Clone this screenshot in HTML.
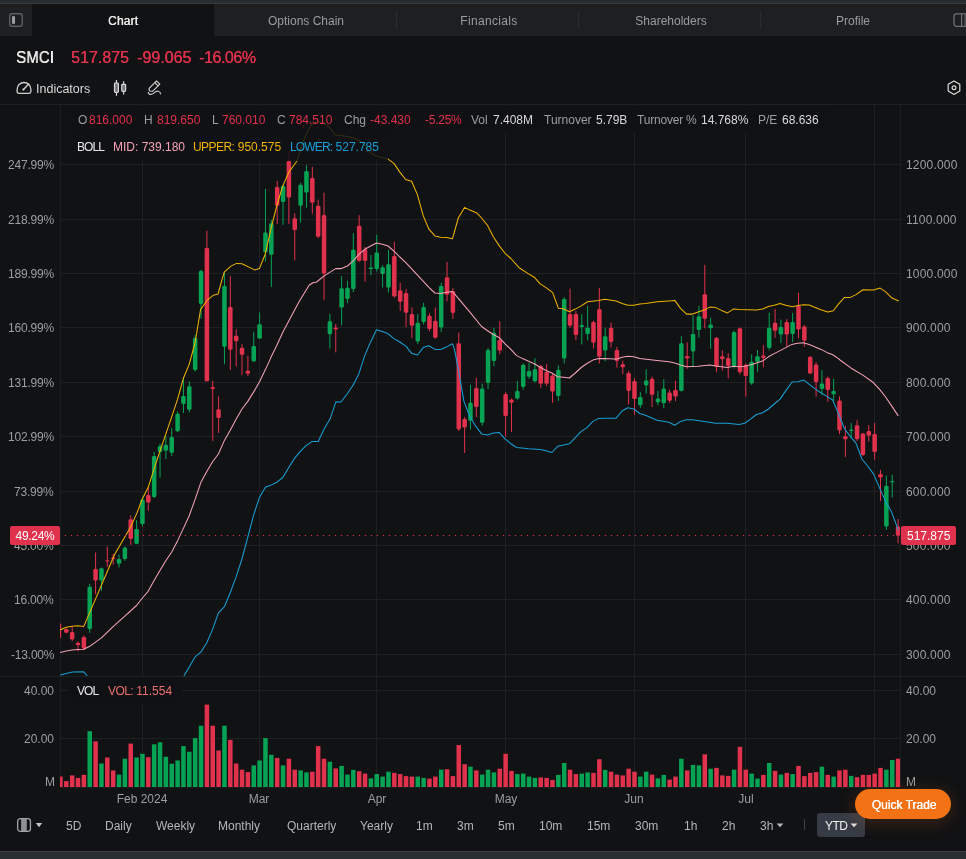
<!DOCTYPE html>
<html><head><meta charset="utf-8"><title>SMCI</title>
<style>
html,body{margin:0;padding:0;background:#111214;}
html{width:966px;height:859px;overflow:hidden;}
body{width:966px;height:859px;position:relative;overflow:hidden;font-family:"Liberation Sans",sans-serif;}
.t{position:absolute;white-space:nowrap;will-change:transform;}
.a{position:absolute;}
</style></head><body>

<div class="a" style="left:0;top:0;width:966px;height:3px;background:#272d30"></div>
<div class="a" style="left:0;top:3px;width:966px;height:1px;background:#35383f"></div>
<div class="a" style="left:0;top:4px;width:966px;height:32px;background:#1d1f21"></div>
<div class="a" style="left:32px;top:4px;width:182px;height:32px;background:#111214"></div>
<div class="a" style="left:396px;top:11px;width:1px;height:18px;background:#2a2c30"></div>
<div class="a" style="left:578px;top:11px;width:1px;height:18px;background:#2a2c30"></div>
<div class="a" style="left:760px;top:11px;width:1px;height:18px;background:#2a2c30"></div>
<div class="t" style="left:63px;width:120px;text-align:center;top:11px;line-height:20px;height:20px;font-size:12px;color:#e8e8e8;text-shadow:0.4px 0 0 #e8e8e8;letter-spacing:0.15px;">Chart</div>
<div class="t" style="left:245.5px;width:120px;text-align:center;top:11px;line-height:20px;height:20px;font-size:12px;color:#9a9c9f;">Options Chain</div>
<div class="t" style="left:428.5px;width:120px;text-align:center;top:11px;line-height:20px;height:20px;font-size:12px;color:#9a9c9f;"><span style="letter-spacing:0.33px">Financials</span></div>
<div class="t" style="left:610.5px;width:120px;text-align:center;top:11px;line-height:20px;height:20px;font-size:12px;color:#9a9c9f;">Shareholders</div>
<div class="t" style="left:792.5px;width:120px;text-align:center;top:11px;line-height:20px;height:20px;font-size:12px;color:#9a9c9f;">Profile</div>
<svg class="a" style="left:8px;top:12px" width="16" height="16" viewBox="0 0 16 16"><rect x="1.7" y="1.7" width="12.6" height="12.6" rx="2.2" fill="none" stroke="#5b5e63" stroke-width="1.4"/><rect x="4" y="4.2" width="3" height="7.6" fill="#9a9c9f"/></svg>
<svg class="a" style="left:953px;top:12px" width="13" height="16" viewBox="0 0 13 16"><rect x="1" y="1.9" width="13.4" height="12.4" rx="2.2" fill="none" stroke="#6d7075" stroke-width="1.3"/><line x1="8.6" y1="2" x2="8.6" y2="14" stroke="#6d7075" stroke-width="1.3"/><rect x="11.2" y="2" width="2" height="12" fill="#4a4c50"/></svg>
<div class="t" style="left:16px;top:48px;line-height:20px;height:20px;font-size:16px;color:#f0f0f0;transform:scaleX(0.945);transform-origin:left center;text-shadow:0.35px 0 0 #f0f0f0;">SMCI</div>
<div class="t" style="left:71px;top:48px;line-height:20px;height:20px;font-size:16px;color:#e0314d;text-shadow:0.35px 0 0 #e0314d;">517.875</div>
<div class="t" style="left:137px;top:48px;line-height:20px;height:20px;font-size:16px;color:#e0314d;text-shadow:0.35px 0 0 #e0314d;">-99.065</div>
<div class="t" style="left:199px;top:48px;line-height:20px;height:20px;font-size:16px;color:#e0314d;letter-spacing:-0.45px;text-shadow:0.35px 0 0 #e0314d;">-16.06%</div>
<svg class="a" style="left:16px;top:80px" width="18" height="16" viewBox="0 0 18 16"><path d="M1.1,11.5 V9.4 A6.9,6.9 0 0 1 14.9,9.4 V11.5 A1.8,1.8 0 0 1 13.1,13.3 H2.9 A1.8,1.8 0 0 1 1.1,11.5 Z" fill="none" stroke="#cfcfcf" stroke-width="1.3"/><path d="M7.3,9.7 L12.6,4" stroke="#cfcfcf" stroke-width="1.4" stroke-linecap="round"/><circle cx="7.4" cy="9.6" r="1" fill="#cfcfcf"/></svg>
<div class="t" style="left:36px;top:79px;line-height:20px;height:20px;font-size:12.5px;color:#d8d8d8;">Indicators</div>
<svg class="a" style="left:112px;top:79px" width="16" height="18" viewBox="0 0 16 18"><g fill="#77797c" stroke="#d6d6d6" stroke-width="1.2"><line x1="4.45" y1="1" x2="4.45" y2="16.8"/><rect x="2.5" y="4" width="3.9" height="9.4" rx="0.8"/><line x1="11.6" y1="2.3" x2="11.6" y2="15.6"/><rect x="9.7" y="5.3" width="3.9" height="7" rx="0.8"/></g></svg>
<svg class="a" style="left:147px;top:80px" width="16" height="16" viewBox="0 0 16 16"><g fill="none" stroke="#cfcfcf" stroke-width="1.15" stroke-linejoin="round" stroke-linecap="round"><path d="M9.6,0.9 L12.8,4.1 L5.5,11.3 L2.5,11 L2.1,8.3 Z"/><path d="M7.9,2.7 L11,5.8"/><path d="M1.3,12.3 C1.5,15.5 5.5,14.5 7.5,12.6 C9.5,10.7 13,10.4 13.6,13.8"/></g></svg>
<svg class="a" style="left:946px;top:80px" width="16" height="16" viewBox="0 0 16 16"><g fill="none" stroke="#dcdcdc" stroke-width="1.2" stroke-linejoin="round"><path d="M8.00,1.00 L13.80,4.35 L13.80,11.05 L8.00,14.40 L2.20,11.05 L2.20,4.35 Z"/><circle cx="8" cy="7.7" r="1.9"/></g></svg>
<div class="a" style="left:0;top:104px;width:966px;height:1px;background:#1e2024"></div>
<div class="a" style="left:0;top:676px;width:966px;height:1px;background:#1e2024"></div>
<div class="a" style="left:60px;top:787px;width:841px;height:1px;background:#1a1c1f"></div>
<div class="a" style="left:60px;top:104px;width:1px;height:684px;background:#1b1e21"></div>
<div class="a" style="left:900px;top:104px;width:1px;height:684px;background:#1b1e21"></div>
<svg class="a" style="left:0;top:0" width="966" height="859" viewBox="0 0 966 859"><defs><clipPath id="cp"><rect x="60" y="105" width="840.3" height="571"/></clipPath><clipPath id="cpv"><rect x="60" y="677" width="840.3" height="110.2"/></clipPath></defs><rect x="60" y="164" width="840" height="1" fill="#1e2024"/>
<rect x="60" y="219" width="840" height="1" fill="#1e2024"/>
<rect x="60" y="273" width="840" height="1" fill="#1e2024"/>
<rect x="60" y="327" width="840" height="1" fill="#1e2024"/>
<rect x="60" y="382" width="840" height="1" fill="#1e2024"/>
<rect x="60" y="436" width="840" height="1" fill="#1e2024"/>
<rect x="60" y="491" width="840" height="1" fill="#1e2024"/>
<rect x="60" y="545" width="840" height="1" fill="#1e2024"/>
<rect x="60" y="599" width="840" height="1" fill="#1e2024"/>
<rect x="60" y="654" width="840" height="1" fill="#1e2024"/>
<rect x="142" y="104" width="1" height="684" fill="#1e2024"/>
<rect x="259" y="104" width="1" height="684" fill="#1e2024"/>
<rect x="376" y="104" width="1" height="684" fill="#1e2024"/>
<rect x="505" y="104" width="1" height="684" fill="#1e2024"/>
<rect x="634" y="104" width="1" height="684" fill="#1e2024"/>
<rect x="745" y="104" width="1" height="684" fill="#1e2024"/>
<rect x="874" y="104" width="1" height="684" fill="#1e2024"/>
<rect x="60" y="690" width="840" height="1" fill="#1e2024"/>
<rect x="60" y="738" width="840" height="1" fill="#1e2024"/>
<rect x="68" y="106" width="760" height="27" fill="#111214"/>
<rect x="68" y="133" width="320" height="27.5" fill="#111214"/>
<rect x="68" y="677" width="114" height="28" fill="#111214"/>
<g clip-path="url(#cp)">
<rect x="60" y="623.6" width="1.2" height="14.2" fill="#e0314d"/>
<rect x="65.81" y="628.5" width="1" height="4.7" fill="#e0314d"/>
<rect x="64.06" y="629.0" width="4.5" height="3.8" rx="1.3" fill="#e0314d"/>
<rect x="71.67" y="626.6" width="1" height="14.4" fill="#e0314d"/>
<rect x="69.92" y="632.0" width="4.5" height="7.5" rx="1.3" fill="#e0314d"/>
<rect x="77.52" y="641.5" width="1" height="9.9" fill="#e0314d"/>
<rect x="75.77" y="642.7" width="4.5" height="2.5" rx="1.3" fill="#e0314d"/>
<rect x="83.38" y="635.3" width="1" height="14.9" fill="#e0314d"/>
<rect x="81.63" y="637.0" width="4.5" height="11.4" rx="1.3" fill="#e0314d"/>
<rect x="89.24" y="583.9" width="1" height="48.9" fill="#06a355"/>
<rect x="87.49" y="586.8" width="4.5" height="42.2" rx="1.3" fill="#06a355"/>
<rect x="95.09" y="552.5" width="1" height="41.8" fill="#e0314d"/>
<rect x="93.34" y="569.0" width="4.5" height="11.6" rx="1.3" fill="#e0314d"/>
<rect x="100.95" y="567.5" width="1" height="23.5" fill="#06a355"/>
<rect x="99.20" y="568.2" width="4.5" height="12.4" rx="1.3" fill="#06a355"/>
<rect x="106.81" y="546.6" width="1" height="20.4" fill="#e0314d"/>
<rect x="105.06" y="560.2" width="4.5" height="1.3" rx="1.3" fill="#e0314d"/>
<rect x="112.67" y="554.0" width="1" height="10.5" fill="#e0314d"/>
<rect x="110.92" y="557.5" width="4.5" height="1.5" rx="1.3" fill="#e0314d"/>
<rect x="118.53" y="554.5" width="1" height="13.0" fill="#06a355"/>
<rect x="116.78" y="559.0" width="4.5" height="4.7" rx="1.3" fill="#06a355"/>
<rect x="124.38" y="546.6" width="1" height="14.1" fill="#06a355"/>
<rect x="122.63" y="547.6" width="4.5" height="11.4" rx="1.3" fill="#06a355"/>
<rect x="130.24" y="515.3" width="1" height="29.8" fill="#e0314d"/>
<rect x="128.49" y="519.3" width="4.5" height="19.6" rx="1.3" fill="#e0314d"/>
<rect x="136.10" y="520.2" width="1" height="23.9" fill="#06a355"/>
<rect x="134.35" y="529.0" width="4.5" height="14.9" rx="1.3" fill="#06a355"/>
<rect x="141.95" y="497.4" width="1" height="29.1" fill="#06a355"/>
<rect x="140.20" y="499.4" width="4.5" height="24.6" rx="1.3" fill="#06a355"/>
<rect x="147.81" y="487.6" width="1" height="23.1" fill="#e0314d"/>
<rect x="146.06" y="495.0" width="4.5" height="7.5" rx="1.3" fill="#e0314d"/>
<rect x="153.67" y="452.0" width="1" height="46.0" fill="#06a355"/>
<rect x="151.92" y="456.0" width="4.5" height="41.0" rx="1.3" fill="#06a355"/>
<rect x="159.53" y="443.6" width="1" height="34.0" fill="#06a355"/>
<rect x="157.78" y="446.0" width="4.5" height="6.0" rx="1.3" fill="#06a355"/>
<rect x="165.38" y="436.0" width="1" height="23.0" fill="#06a355"/>
<rect x="163.63" y="444.8" width="4.5" height="6.0" rx="1.3" fill="#06a355"/>
<rect x="171.24" y="428.0" width="1" height="28.0" fill="#06a355"/>
<rect x="169.49" y="437.0" width="4.5" height="15.8" rx="1.3" fill="#06a355"/>
<rect x="177.10" y="411.3" width="1" height="20.9" fill="#06a355"/>
<rect x="175.35" y="413.8" width="4.5" height="17.4" rx="1.3" fill="#06a355"/>
<rect x="182.96" y="377.0" width="1" height="36.0" fill="#06a355"/>
<rect x="181.21" y="396.0" width="4.5" height="7.9" rx="1.3" fill="#06a355"/>
<rect x="188.81" y="381.5" width="1" height="30.8" fill="#06a355"/>
<rect x="187.06" y="386.2" width="4.5" height="23.6" rx="1.3" fill="#06a355"/>
<rect x="194.67" y="334.8" width="1" height="36.8" fill="#06a355"/>
<rect x="192.92" y="337.8" width="4.5" height="32.2" rx="1.3" fill="#06a355"/>
<rect x="200.53" y="269.6" width="1" height="49.0" fill="#06a355"/>
<rect x="198.78" y="271.1" width="4.5" height="32.8" rx="1.3" fill="#06a355"/>
<rect x="206.39" y="230.6" width="1" height="150.6" fill="#e0314d"/>
<rect x="204.64" y="248.0" width="4.5" height="133.2" rx="1.3" fill="#e0314d"/>
<rect x="212.25" y="380.7" width="1" height="60.4" fill="#e0314d"/>
<rect x="210.50" y="387.0" width="4.5" height="2.0" rx="1.3" fill="#e0314d"/>
<rect x="218.10" y="396.4" width="1" height="36.6" fill="#e0314d"/>
<rect x="216.35" y="409.3" width="4.5" height="8.7" rx="1.3" fill="#e0314d"/>
<rect x="223.96" y="272.1" width="1" height="92.0" fill="#06a355"/>
<rect x="222.21" y="286.0" width="4.5" height="60.7" rx="1.3" fill="#06a355"/>
<rect x="229.82" y="276.1" width="1" height="93.9" fill="#e0314d"/>
<rect x="228.07" y="306.9" width="4.5" height="42.8" rx="1.3" fill="#e0314d"/>
<rect x="235.68" y="329.3" width="1" height="37.3" fill="#e0314d"/>
<rect x="233.93" y="335.7" width="4.5" height="5.5" rx="1.3" fill="#e0314d"/>
<rect x="241.53" y="344.2" width="1" height="30.8" fill="#e0314d"/>
<rect x="239.78" y="347.7" width="4.5" height="7.0" rx="1.3" fill="#e0314d"/>
<rect x="247.39" y="355.9" width="1" height="20.4" fill="#e0314d"/>
<rect x="245.64" y="370.8" width="4.5" height="3.0" rx="1.3" fill="#e0314d"/>
<rect x="253.25" y="331.8" width="1" height="29.8" fill="#06a355"/>
<rect x="251.50" y="346.0" width="4.5" height="15.4" rx="1.3" fill="#06a355"/>
<rect x="259.11" y="312.4" width="1" height="26.6" fill="#06a355"/>
<rect x="257.36" y="324.3" width="4.5" height="14.2" rx="1.3" fill="#06a355"/>
<rect x="264.96" y="188.9" width="1" height="72.8" fill="#06a355"/>
<rect x="263.21" y="232.4" width="4.5" height="19.8" rx="1.3" fill="#06a355"/>
<rect x="270.82" y="219.9" width="1" height="67.1" fill="#06a355"/>
<rect x="269.07" y="223.2" width="4.5" height="31.5" rx="1.3" fill="#06a355"/>
<rect x="276.68" y="180.9" width="1" height="43.0" fill="#e0314d"/>
<rect x="274.93" y="187.1" width="4.5" height="18.7" rx="1.3" fill="#e0314d"/>
<rect x="282.54" y="185.2" width="1" height="39.7" fill="#06a355"/>
<rect x="280.79" y="185.9" width="4.5" height="16.1" rx="1.3" fill="#06a355"/>
<rect x="288.39" y="152.4" width="1" height="71.5" fill="#e0314d"/>
<rect x="286.64" y="161.0" width="4.5" height="36.6" rx="1.3" fill="#e0314d"/>
<rect x="294.25" y="213.2" width="1" height="47.2" fill="#e0314d"/>
<rect x="292.50" y="218.2" width="4.5" height="11.9" rx="1.3" fill="#e0314d"/>
<rect x="300.11" y="182.7" width="1" height="40.0" fill="#06a355"/>
<rect x="298.36" y="184.7" width="4.5" height="21.1" rx="1.3" fill="#06a355"/>
<rect x="305.96" y="165.3" width="1" height="42.5" fill="#06a355"/>
<rect x="304.21" y="171.0" width="4.5" height="21.6" rx="1.3" fill="#06a355"/>
<rect x="311.82" y="166.8" width="1" height="46.9" fill="#e0314d"/>
<rect x="310.07" y="178.0" width="4.5" height="24.8" rx="1.3" fill="#e0314d"/>
<rect x="317.68" y="199.6" width="1" height="38.5" fill="#e0314d"/>
<rect x="315.93" y="205.8" width="4.5" height="31.0" rx="1.3" fill="#e0314d"/>
<rect x="323.54" y="192.6" width="1" height="107.6" fill="#e0314d"/>
<rect x="321.79" y="215.0" width="4.5" height="58.6" rx="1.3" fill="#e0314d"/>
<rect x="329.39" y="313.9" width="1" height="34.6" fill="#06a355"/>
<rect x="327.64" y="321.3" width="4.5" height="13.0" rx="1.3" fill="#06a355"/>
<rect x="335.25" y="324.0" width="1" height="28.4" fill="#e0314d"/>
<rect x="333.50" y="327.5" width="4.5" height="2.1" rx="1.3" fill="#e0314d"/>
<rect x="341.11" y="276.1" width="1" height="48.9" fill="#06a355"/>
<rect x="339.36" y="288.3" width="4.5" height="19.3" rx="1.3" fill="#06a355"/>
<rect x="346.97" y="280.8" width="1" height="22.4" fill="#06a355"/>
<rect x="345.22" y="287.8" width="4.5" height="11.1" rx="1.3" fill="#06a355"/>
<rect x="352.82" y="233.1" width="1" height="58.9" fill="#06a355"/>
<rect x="351.07" y="249.8" width="4.5" height="39.2" rx="1.3" fill="#06a355"/>
<rect x="358.68" y="215.2" width="1" height="46.5" fill="#e0314d"/>
<rect x="356.93" y="225.7" width="4.5" height="35.2" rx="1.3" fill="#e0314d"/>
<rect x="364.54" y="246.8" width="1" height="34.8" fill="#e0314d"/>
<rect x="362.79" y="249.3" width="4.5" height="11.6" rx="1.3" fill="#e0314d"/>
<rect x="370.40" y="255.0" width="1" height="20.3" fill="#06a355"/>
<rect x="368.65" y="267.4" width="4.5" height="1.7" rx="1.3" fill="#06a355"/>
<rect x="376.25" y="234.8" width="1" height="36.8" fill="#06a355"/>
<rect x="374.50" y="252.5" width="4.5" height="16.6" rx="1.3" fill="#06a355"/>
<rect x="382.11" y="265.2" width="1" height="22.3" fill="#06a355"/>
<rect x="380.36" y="267.2" width="4.5" height="6.9" rx="1.3" fill="#06a355"/>
<rect x="387.97" y="250.0" width="1" height="42.5" fill="#06a355"/>
<rect x="386.22" y="264.3" width="4.5" height="23.2" rx="1.3" fill="#06a355"/>
<rect x="393.83" y="241.8" width="1" height="55.7" fill="#e0314d"/>
<rect x="392.08" y="256.1" width="4.5" height="40.5" rx="1.3" fill="#e0314d"/>
<rect x="399.69" y="282.8" width="1" height="28.1" fill="#e0314d"/>
<rect x="397.94" y="290.2" width="4.5" height="11.6" rx="1.3" fill="#e0314d"/>
<rect x="405.54" y="289.0" width="1" height="38.2" fill="#e0314d"/>
<rect x="403.79" y="293.0" width="4.5" height="19.8" rx="1.3" fill="#e0314d"/>
<rect x="411.40" y="307.1" width="1" height="31.1" fill="#e0314d"/>
<rect x="409.65" y="313.9" width="4.5" height="11.9" rx="1.3" fill="#e0314d"/>
<rect x="417.26" y="314.1" width="1" height="29.8" fill="#06a355"/>
<rect x="415.51" y="322.8" width="4.5" height="18.6" rx="1.3" fill="#06a355"/>
<rect x="423.12" y="302.7" width="1" height="21.8" fill="#06a355"/>
<rect x="421.37" y="307.1" width="4.5" height="14.9" rx="1.3" fill="#06a355"/>
<rect x="428.97" y="313.4" width="1" height="17.8" fill="#e0314d"/>
<rect x="427.22" y="315.8" width="4.5" height="13.2" rx="1.3" fill="#e0314d"/>
<rect x="434.83" y="307.6" width="1" height="31.1" fill="#e0314d"/>
<rect x="433.08" y="320.8" width="4.5" height="16.9" rx="1.3" fill="#e0314d"/>
<rect x="440.69" y="282.8" width="1" height="49.2" fill="#06a355"/>
<rect x="438.94" y="286.0" width="4.5" height="41.5" rx="1.3" fill="#06a355"/>
<rect x="446.54" y="261.9" width="1" height="39.5" fill="#e0314d"/>
<rect x="444.79" y="277.3" width="4.5" height="17.4" rx="1.3" fill="#e0314d"/>
<rect x="452.40" y="287.8" width="1" height="31.0" fill="#e0314d"/>
<rect x="450.65" y="291.0" width="4.5" height="21.9" rx="1.3" fill="#e0314d"/>
<rect x="458.26" y="332.5" width="1" height="98.4" fill="#e0314d"/>
<rect x="456.51" y="343.2" width="4.5" height="86.2" rx="1.3" fill="#e0314d"/>
<rect x="464.12" y="417.0" width="1" height="36.0" fill="#e0314d"/>
<rect x="462.37" y="418.9" width="4.5" height="8.7" rx="1.3" fill="#e0314d"/>
<rect x="469.97" y="384.9" width="1" height="44.5" fill="#06a355"/>
<rect x="468.22" y="402.8" width="4.5" height="17.9" rx="1.3" fill="#06a355"/>
<rect x="475.83" y="378.0" width="1" height="39.0" fill="#e0314d"/>
<rect x="474.08" y="387.9" width="4.5" height="19.1" rx="1.3" fill="#e0314d"/>
<rect x="481.69" y="383.7" width="1" height="42.0" fill="#06a355"/>
<rect x="479.94" y="388.6" width="4.5" height="34.1" rx="1.3" fill="#06a355"/>
<rect x="487.55" y="348.1" width="1" height="41.0" fill="#06a355"/>
<rect x="485.80" y="350.1" width="4.5" height="32.8" rx="1.3" fill="#06a355"/>
<rect x="493.40" y="327.8" width="1" height="38.5" fill="#06a355"/>
<rect x="491.65" y="332.7" width="4.5" height="28.4" rx="1.3" fill="#06a355"/>
<rect x="499.26" y="321.3" width="1" height="33.0" fill="#e0314d"/>
<rect x="497.51" y="339.9" width="4.5" height="10.7" rx="1.3" fill="#e0314d"/>
<rect x="505.12" y="392.1" width="1" height="44.7" fill="#e0314d"/>
<rect x="503.37" y="394.1" width="4.5" height="21.9" rx="1.3" fill="#e0314d"/>
<rect x="510.98" y="398.6" width="1" height="33.3" fill="#e0314d"/>
<rect x="509.23" y="399.6" width="4.5" height="3.2" rx="1.3" fill="#e0314d"/>
<rect x="516.84" y="380.9" width="1" height="18.7" fill="#06a355"/>
<rect x="515.09" y="391.1" width="4.5" height="7.5" rx="1.3" fill="#06a355"/>
<rect x="522.69" y="363.5" width="1" height="26.1" fill="#06a355"/>
<rect x="520.94" y="364.8" width="4.5" height="22.3" rx="1.3" fill="#06a355"/>
<rect x="528.55" y="363.0" width="1" height="15.7" fill="#06a355"/>
<rect x="526.80" y="371.0" width="4.5" height="5.7" rx="1.3" fill="#06a355"/>
<rect x="534.41" y="358.1" width="1" height="24.3" fill="#06a355"/>
<rect x="532.66" y="369.3" width="4.5" height="11.9" rx="1.3" fill="#06a355"/>
<rect x="540.26" y="364.8" width="1" height="23.1" fill="#e0314d"/>
<rect x="538.51" y="366.0" width="4.5" height="17.7" rx="1.3" fill="#e0314d"/>
<rect x="546.12" y="363.8" width="1" height="22.3" fill="#e0314d"/>
<rect x="544.37" y="371.7" width="4.5" height="12.0" rx="1.3" fill="#e0314d"/>
<rect x="551.98" y="374.2" width="1" height="28.6" fill="#e0314d"/>
<rect x="550.23" y="375.5" width="4.5" height="16.1" rx="1.3" fill="#e0314d"/>
<rect x="557.84" y="365.5" width="1" height="35.3" fill="#06a355"/>
<rect x="556.09" y="369.8" width="4.5" height="26.3" rx="1.3" fill="#06a355"/>
<rect x="563.70" y="297.2" width="1" height="66.3" fill="#06a355"/>
<rect x="561.95" y="298.9" width="4.5" height="59.7" rx="1.3" fill="#06a355"/>
<rect x="569.55" y="288.5" width="1" height="39.3" fill="#e0314d"/>
<rect x="567.80" y="314.1" width="4.5" height="11.7" rx="1.3" fill="#e0314d"/>
<rect x="575.41" y="310.9" width="1" height="29.3" fill="#e0314d"/>
<rect x="573.66" y="313.9" width="4.5" height="21.1" rx="1.3" fill="#e0314d"/>
<rect x="581.27" y="314.1" width="1" height="30.3" fill="#06a355"/>
<rect x="579.52" y="325.0" width="4.5" height="2.0" rx="1.3" fill="#06a355"/>
<rect x="587.12" y="305.9" width="1" height="34.3" fill="#06a355"/>
<rect x="585.38" y="327.8" width="4.5" height="6.2" rx="1.3" fill="#06a355"/>
<rect x="592.98" y="320.8" width="1" height="27.8" fill="#e0314d"/>
<rect x="591.23" y="322.0" width="4.5" height="20.7" rx="1.3" fill="#e0314d"/>
<rect x="598.84" y="288.0" width="1" height="75.5" fill="#e0314d"/>
<rect x="597.09" y="308.9" width="4.5" height="47.9" rx="1.3" fill="#e0314d"/>
<rect x="604.70" y="327.8" width="1" height="33.5" fill="#06a355"/>
<rect x="602.95" y="336.2" width="4.5" height="14.4" rx="1.3" fill="#06a355"/>
<rect x="610.56" y="322.5" width="1" height="24.9" fill="#e0314d"/>
<rect x="608.81" y="327.8" width="4.5" height="14.1" rx="1.3" fill="#e0314d"/>
<rect x="616.41" y="346.9" width="1" height="20.6" fill="#e0314d"/>
<rect x="614.66" y="349.9" width="4.5" height="11.2" rx="1.3" fill="#e0314d"/>
<rect x="622.27" y="360.6" width="1" height="13.6" fill="#e0314d"/>
<rect x="620.52" y="364.3" width="4.5" height="3.0" rx="1.3" fill="#e0314d"/>
<rect x="628.13" y="371.0" width="1" height="33.5" fill="#e0314d"/>
<rect x="626.38" y="373.0" width="4.5" height="17.9" rx="1.3" fill="#e0314d"/>
<rect x="633.99" y="378.0" width="1" height="36.7" fill="#e0314d"/>
<rect x="632.24" y="380.9" width="4.5" height="18.2" rx="1.3" fill="#e0314d"/>
<rect x="639.84" y="392.1" width="1" height="15.7" fill="#06a355"/>
<rect x="638.09" y="397.1" width="4.5" height="8.2" rx="1.3" fill="#06a355"/>
<rect x="645.70" y="369.3" width="1" height="24.3" fill="#06a355"/>
<rect x="643.95" y="380.4" width="4.5" height="5.0" rx="1.3" fill="#06a355"/>
<rect x="651.56" y="376.7" width="1" height="30.3" fill="#e0314d"/>
<rect x="649.81" y="378.7" width="4.5" height="16.1" rx="1.3" fill="#e0314d"/>
<rect x="657.42" y="390.9" width="1" height="14.4" fill="#06a355"/>
<rect x="655.67" y="398.6" width="4.5" height="3.7" rx="1.3" fill="#06a355"/>
<rect x="663.27" y="379.2" width="1" height="29.1" fill="#06a355"/>
<rect x="661.52" y="388.6" width="4.5" height="14.7" rx="1.3" fill="#06a355"/>
<rect x="669.13" y="389.6" width="1" height="13.2" fill="#e0314d"/>
<rect x="667.38" y="392.4" width="4.5" height="8.4" rx="1.3" fill="#e0314d"/>
<rect x="674.99" y="380.9" width="1" height="20.2" fill="#e0314d"/>
<rect x="673.24" y="389.9" width="4.5" height="6.7" rx="1.3" fill="#e0314d"/>
<rect x="680.85" y="336.2" width="1" height="55.4" fill="#06a355"/>
<rect x="679.10" y="343.2" width="4.5" height="47.7" rx="1.3" fill="#06a355"/>
<rect x="686.70" y="342.4" width="1" height="26.4" fill="#e0314d"/>
<rect x="684.95" y="356.1" width="4.5" height="2.5" rx="1.3" fill="#e0314d"/>
<rect x="692.56" y="315.3" width="1" height="51.5" fill="#06a355"/>
<rect x="690.81" y="334.0" width="4.5" height="17.4" rx="1.3" fill="#06a355"/>
<rect x="698.42" y="305.9" width="1" height="31.8" fill="#06a355"/>
<rect x="696.67" y="316.3" width="4.5" height="13.7" rx="1.3" fill="#06a355"/>
<rect x="704.28" y="264.9" width="1" height="63.4" fill="#e0314d"/>
<rect x="702.53" y="294.2" width="4.5" height="24.6" rx="1.3" fill="#e0314d"/>
<rect x="710.13" y="317.6" width="1" height="31.0" fill="#06a355"/>
<rect x="708.38" y="324.5" width="4.5" height="3.8" rx="1.3" fill="#06a355"/>
<rect x="715.99" y="337.0" width="1" height="35.2" fill="#e0314d"/>
<rect x="714.24" y="337.7" width="4.5" height="29.1" rx="1.3" fill="#e0314d"/>
<rect x="721.85" y="350.1" width="1" height="20.4" fill="#e0314d"/>
<rect x="720.10" y="356.3" width="4.5" height="3.0" rx="1.3" fill="#e0314d"/>
<rect x="727.71" y="353.1" width="1" height="25.3" fill="#e0314d"/>
<rect x="725.96" y="358.1" width="4.5" height="7.9" rx="1.3" fill="#e0314d"/>
<rect x="733.56" y="330.7" width="1" height="37.8" fill="#06a355"/>
<rect x="731.81" y="332.0" width="4.5" height="34.0" rx="1.3" fill="#06a355"/>
<rect x="739.42" y="327.5" width="1" height="46.7" fill="#e0314d"/>
<rect x="737.67" y="328.3" width="4.5" height="43.9" rx="1.3" fill="#e0314d"/>
<rect x="745.28" y="363.5" width="1" height="33.1" fill="#e0314d"/>
<rect x="743.53" y="364.8" width="4.5" height="11.2" rx="1.3" fill="#e0314d"/>
<rect x="751.13" y="354.3" width="1" height="30.6" fill="#06a355"/>
<rect x="749.38" y="361.8" width="4.5" height="21.6" rx="1.3" fill="#06a355"/>
<rect x="756.99" y="350.1" width="1" height="21.6" fill="#06a355"/>
<rect x="755.24" y="356.3" width="4.5" height="5.5" rx="1.3" fill="#06a355"/>
<rect x="762.85" y="345.2" width="1" height="22.1" fill="#e0314d"/>
<rect x="761.10" y="355.6" width="4.5" height="2.5" rx="1.3" fill="#e0314d"/>
<rect x="768.71" y="312.6" width="1" height="37.5" fill="#06a355"/>
<rect x="766.96" y="327.8" width="4.5" height="20.3" rx="1.3" fill="#06a355"/>
<rect x="774.57" y="308.9" width="1" height="28.8" fill="#e0314d"/>
<rect x="772.82" y="322.8" width="4.5" height="7.9" rx="1.3" fill="#e0314d"/>
<rect x="780.42" y="319.6" width="1" height="23.6" fill="#06a355"/>
<rect x="778.67" y="327.0" width="4.5" height="7.5" rx="1.3" fill="#06a355"/>
<rect x="786.28" y="319.1" width="1" height="27.8" fill="#e0314d"/>
<rect x="784.53" y="322.0" width="4.5" height="12.5" rx="1.3" fill="#e0314d"/>
<rect x="792.14" y="312.9" width="1" height="29.0" fill="#06a355"/>
<rect x="790.39" y="322.0" width="4.5" height="12.0" rx="1.3" fill="#06a355"/>
<rect x="798.00" y="292.7" width="1" height="45.5" fill="#e0314d"/>
<rect x="796.25" y="305.9" width="4.5" height="23.6" rx="1.3" fill="#e0314d"/>
<rect x="803.85" y="325.0" width="1" height="21.9" fill="#e0314d"/>
<rect x="802.10" y="326.5" width="4.5" height="14.2" rx="1.3" fill="#e0314d"/>
<rect x="809.71" y="356.3" width="1" height="17.9" fill="#e0314d"/>
<rect x="807.96" y="356.8" width="4.5" height="16.7" rx="1.3" fill="#e0314d"/>
<rect x="815.57" y="362.3" width="1" height="34.4" fill="#e0314d"/>
<rect x="813.82" y="364.5" width="4.5" height="17.5" rx="1.3" fill="#e0314d"/>
<rect x="821.43" y="370.0" width="1" height="24.7" fill="#06a355"/>
<rect x="819.68" y="383.5" width="4.5" height="5.6" rx="1.3" fill="#06a355"/>
<rect x="827.28" y="376.7" width="1" height="25.1" fill="#e0314d"/>
<rect x="825.53" y="378.1" width="4.5" height="12.0" rx="1.3" fill="#e0314d"/>
<rect x="833.14" y="378.7" width="1" height="22.1" fill="#06a355"/>
<rect x="831.39" y="391.0" width="4.5" height="3.2" rx="1.3" fill="#06a355"/>
<rect x="839.00" y="396.3" width="1" height="37.9" fill="#e0314d"/>
<rect x="837.25" y="400.5" width="4.5" height="29.9" rx="1.3" fill="#e0314d"/>
<rect x="844.86" y="425.7" width="1" height="31.4" fill="#e0314d"/>
<rect x="843.11" y="436.2" width="4.5" height="3.0" rx="1.3" fill="#e0314d"/>
<rect x="850.71" y="422.9" width="1" height="15.1" fill="#06a355"/>
<rect x="848.96" y="429.4" width="4.5" height="1.6" rx="1.3" fill="#06a355"/>
<rect x="856.57" y="419.9" width="1" height="21.1" fill="#e0314d"/>
<rect x="854.82" y="425.2" width="4.5" height="14.0" rx="1.3" fill="#e0314d"/>
<rect x="862.43" y="432.9" width="1" height="23.0" fill="#e0314d"/>
<rect x="860.68" y="433.4" width="4.5" height="21.6" rx="1.3" fill="#e0314d"/>
<rect x="868.29" y="425.2" width="1" height="16.3" fill="#e0314d"/>
<rect x="866.54" y="431.0" width="4.5" height="4.7" rx="1.3" fill="#e0314d"/>
<rect x="874.14" y="422.9" width="1" height="36.8" fill="#e0314d"/>
<rect x="872.39" y="434.1" width="4.5" height="17.9" rx="1.3" fill="#e0314d"/>
<rect x="880.00" y="469.9" width="1" height="31.0" fill="#e0314d"/>
<rect x="878.25" y="474.1" width="4.5" height="3.5" rx="1.3" fill="#e0314d"/>
<rect x="885.86" y="475.7" width="1" height="54.3" fill="#06a355"/>
<rect x="884.11" y="485.8" width="4.5" height="40.7" rx="1.3" fill="#06a355"/>
<rect x="891.72" y="474.8" width="1" height="22.6" fill="#06a355"/>
<rect x="889.97" y="481.1" width="4.5" height="1.2" rx="1.3" fill="#06a355"/>
<rect x="897.57" y="519.0" width="1" height="24.3" fill="#e0314d"/>
<rect x="895.82" y="526.5" width="4.5" height="9.3" rx="1.3" fill="#e0314d"/>
<path d="M60.0,629.9 L66.3,627.3 L72.1,626.3 L77.9,625.7 L83.8,626.4 L114.6,554.5 L130.5,527.2 L137.0,512.9 L142.4,498.8 L148.1,487.6 L154.1,468.9 L159.8,451.6 L165.8,434.2 L171.7,416.8 L177.5,399.4 L183.4,378.3 L189.1,364.6 L195.1,342.5 L200.6,309.4 L207.3,300.2 L213.5,295.2 L218.0,294.0 L224.2,272.1 L230.9,266.1 L236.6,263.4 L242.0,263.7 L254.5,269.9 L259.4,268.6 L265.2,254.2 L271.1,228.1 L277.1,204.5 L282.8,185.9 L288.8,172.2 L296.8,161.2 L300.5,150.0 L304.8,137.3 L308.5,130.0 L312.0,124.3 L315.5,122.5 L319.3,122.1 L323.5,123.0 L328.0,125.7 L331.5,130.2 L335.2,134.9 L341.0,135.6 L347.0,136.6 L352.6,137.8 L358.0,140.0 L362.8,142.8 L367.0,148.0 L371.4,153.6 L377.2,156.3 L382.0,157.6 L388.1,159.1 L393.9,163.4 L399.9,172.1 L405.6,179.5 L411.6,181.3 L417.3,194.4 L423.2,215.6 L428.9,229.2 L434.9,235.9 L440.6,237.2 L446.6,237.4 L452.5,238.7 L458.3,218.0 L464.5,207.4 L469.9,210.1 L476.9,213.1 L481.6,218.0 L487.6,225.5 L493.3,236.7 L499.3,245.9 L505.0,253.3 L510.9,258.5 L519.1,267.7 L528.6,273.9 L534.3,277.2 L540.2,283.9 L546.0,287.6 L552.7,292.6 L558.4,308.2 L563.6,308.7 L569.3,311.7 L575.3,309.1 L581.2,305.9 L587.5,301.7 L598.6,300.4 L604.8,299.2 L616.1,300.9 L622.1,303.4 L627.8,305.2 L633.8,305.2 L639.8,303.9 L645.5,303.4 L657.1,301.7 L668.8,300.9 L674.8,300.4 L680.5,308.4 L686.5,314.1 L692.4,314.1 L698.1,312.1 L704.1,310.1 L709.8,307.1 L715.8,307.6 L721.5,310.4 L727.5,312.9 L733.2,309.1 L739.1,309.6 L756.5,310.1 L762.5,309.1 L768.4,306.4 L774.2,305.2 L780.1,303.4 L785.8,305.2 L792.3,306.7 L798.1,305.6 L803.5,304.7 L809.3,304.9 L815.1,307.4 L820.9,309.7 L827.9,312.1 L833.3,310.7 L838.6,303.9 L844.5,297.4 L850.3,297.4 L856.1,294.6 L862.9,289.7 L873.6,289.9 L880.1,288.1 L885.4,291.6 L892.0,298.1 L898.7,300.9" fill="none" stroke="#eeb200" stroke-width="1.05" stroke-linejoin="round"/>
<path d="M60.0,652.5 L66.3,651.0 L72.1,650.0 L77.9,649.5 L83.8,649.3 L89.7,646.3 L101.4,637.8 L113.1,626.6 L124.8,616.1 L136.5,605.5 L142.4,598.0 L148.1,591.3 L154.1,580.6 L159.8,570.7 L165.8,560.7 L171.7,552.0 L177.5,540.9 L183.4,528.4 L189.1,516.0 L195.1,499.4 L200.8,482.6 L206.8,471.4 L212.7,461.5 L218.4,454.0 L224.4,440.4 L230.1,430.4 L236.1,419.3 L241.8,409.3 L247.8,401.4 L253.7,391.9 L259.4,382.0 L265.4,369.6 L271.1,357.1 L277.1,344.7 L282.8,332.3 L289.3,320.0 L299.2,301.4 L309.1,285.3 L312.9,282.8 L316.6,282.0 L323.8,276.1 L335.7,268.6 L341.4,268.6 L347.4,266.1 L353.1,260.9 L359.1,254.2 L364.8,249.3 L370.7,246.0 L376.5,243.0 L382.4,244.3 L388.1,246.0 L393.9,251.2 L399.8,257.0 L405.6,262.4 L417.3,274.8 L428.9,287.3 L434.9,293.0 L440.6,293.5 L446.6,292.2 L452.5,291.5 L458.3,298.4 L469.9,312.1 L481.6,326.5 L487.6,330.7 L493.3,334.5 L499.3,337.7 L505.0,343.9 L510.9,349.4 L516.6,355.6 L522.6,358.6 L528.6,361.3 L534.3,363.8 L540.2,367.3 L546.0,370.5 L551.9,373.0 L557.6,376.7 L563.6,377.2 L569.3,378.0 L575.3,373.0 L581.2,367.5 L587.0,363.5 L592.9,360.1 L598.6,358.6 L604.6,358.6 L610.3,358.8 L616.3,359.3 L622.1,357.3 L627.8,356.3 L633.8,356.8 L639.8,358.6 L657.1,360.6 L668.8,361.8 L674.8,363.0 L680.5,365.0 L686.5,366.8 L698.1,366.3 L709.8,365.0 L715.8,366.0 L727.5,367.5 L733.2,366.3 L739.1,366.8 L744.8,366.3 L750.8,364.8 L756.5,363.0 L762.5,361.1 L768.4,356.8 L774.2,353.6 L780.1,350.6 L785.8,347.6 L791.8,344.4 L797.5,343.2 L803.5,342.7 L809.2,344.4 L815.2,346.9 L821.1,349.4 L826.8,352.4 L832.8,354.8 L838.5,358.6 L840.0,360.0 L851.2,368.2 L862.9,375.1 L873.6,382.8 L879.4,389.1 L885.4,396.8 L891.3,405.4 L898.3,415.9" fill="none" stroke="#f5a3b7" stroke-width="1.05" stroke-linejoin="round"/>
<path d="M60.1,675.0 L72.4,672.0 L83.8,671.8 L86.8,675.5 L87.5,677.0" fill="none" stroke="#189fd6" stroke-width="1.05" stroke-linejoin="round"/>
<path d="M183.0,677.0 L184.2,675.5 L195.1,656.9 L200.8,652.2 L206.8,642.7 L212.7,629.1 L218.4,612.9 L224.4,606.7 L230.1,593.0 L236.1,576.9 L241.8,559.5 L247.8,537.1 L253.7,514.8 L259.4,497.4 L265.4,487.2 L270.0,485.6 L277.0,482.2 L282.8,477.5 L288.6,467.7 L294.5,458.4 L300.3,451.4 L306.1,445.6 L311.9,441.6 L318.2,441.4 L324.0,429.3 L330.1,418.8 L335.9,401.8 L341.0,402.0 L346.9,394.3 L353.2,385.0 L359.0,373.4 L364.8,355.4 L370.6,341.9 L376.5,329.8 L382.4,331.4 L387.8,333.6 L393.9,338.6 L400.2,342.3 L405.9,346.1 L411.8,353.6 L417.5,355.0 L423.2,347.6 L428.9,345.7 L434.9,349.4 L440.6,349.4 L446.6,346.9 L452.5,343.7 L454.5,349.4 L458.3,369.3 L464.0,401.6 L469.9,416.5 L475.9,426.4 L481.6,433.9 L487.6,435.1 L493.3,433.1 L499.3,432.6 L505.0,438.8 L510.9,443.8 L516.6,447.5 L528.6,448.8 L540.2,449.5 L546.0,450.7 L551.9,452.5 L557.6,446.3 L563.6,445.0 L569.3,443.8 L575.3,437.6 L581.2,431.4 L587.0,427.6 L592.9,421.4 L598.6,418.4 L604.6,418.2 L616.1,418.2 L622.1,411.0 L627.8,407.8 L633.8,409.0 L639.8,413.5 L645.5,415.2 L657.1,420.2 L668.8,422.2 L674.8,425.2 L680.5,421.4 L686.5,419.7 L692.4,419.7 L704.1,421.4 L715.8,423.2 L727.5,423.2 L739.1,424.4 L744.8,423.2 L750.8,418.9 L756.5,414.5 L762.5,412.7 L768.4,409.0 L774.2,404.0 L780.1,399.1 L785.8,390.6 L792.1,382.0 L798.0,381.7 L803.8,380.1 L809.3,384.4 L815.1,388.9 L821.0,392.8 L826.8,396.4 L832.7,400.0 L838.6,414.0 L844.5,428.7 L850.3,436.4 L856.1,443.4 L861.9,459.0 L867.7,466.0 L873.6,474.1 L879.4,487.6 L885.4,500.9 L891.3,511.4 L898.3,530.0" fill="none" stroke="#189fd6" stroke-width="1.05" stroke-linejoin="round"/>
</g>
<g clip-path="url(#cpv)">
<rect x="58.20" y="776.6" width="4.5" height="10.4" fill="#e0314d"/>
<rect x="64.06" y="781.1" width="4.5" height="6.0" fill="#e0314d"/>
<rect x="69.92" y="775.4" width="4.5" height="11.7" fill="#e0314d"/>
<rect x="75.77" y="777.9" width="4.5" height="9.2" fill="#e0314d"/>
<rect x="81.63" y="774.9" width="4.5" height="12.2" fill="#e0314d"/>
<rect x="87.49" y="731.2" width="4.5" height="55.9" fill="#06a355"/>
<rect x="93.34" y="741.3" width="4.5" height="45.7" fill="#e0314d"/>
<rect x="99.20" y="763.5" width="4.5" height="23.6" fill="#06a355"/>
<rect x="105.06" y="757.5" width="4.5" height="29.6" fill="#e0314d"/>
<rect x="110.92" y="770.4" width="4.5" height="16.6" fill="#e0314d"/>
<rect x="116.78" y="774.6" width="4.5" height="12.4" fill="#06a355"/>
<rect x="122.63" y="758.7" width="4.5" height="28.3" fill="#06a355"/>
<rect x="128.49" y="743.6" width="4.5" height="43.5" fill="#e0314d"/>
<rect x="134.35" y="757.5" width="4.5" height="29.6" fill="#06a355"/>
<rect x="140.20" y="753.8" width="4.5" height="33.3" fill="#06a355"/>
<rect x="146.06" y="757.2" width="4.5" height="29.8" fill="#e0314d"/>
<rect x="151.92" y="744.3" width="4.5" height="42.7" fill="#06a355"/>
<rect x="157.78" y="742.3" width="4.5" height="44.7" fill="#06a355"/>
<rect x="163.63" y="756.7" width="4.5" height="30.3" fill="#06a355"/>
<rect x="169.49" y="763.7" width="4.5" height="23.4" fill="#06a355"/>
<rect x="175.35" y="760.5" width="4.5" height="26.6" fill="#06a355"/>
<rect x="181.21" y="746.1" width="4.5" height="41.0" fill="#06a355"/>
<rect x="187.06" y="751.8" width="4.5" height="35.3" fill="#06a355"/>
<rect x="192.92" y="738.1" width="4.5" height="48.9" fill="#06a355"/>
<rect x="198.78" y="725.7" width="4.5" height="61.4" fill="#06a355"/>
<rect x="204.64" y="704.6" width="4.5" height="82.5" fill="#e0314d"/>
<rect x="210.50" y="725.7" width="4.5" height="61.4" fill="#e0314d"/>
<rect x="216.35" y="750.5" width="4.5" height="36.5" fill="#e0314d"/>
<rect x="222.21" y="725.7" width="4.5" height="61.4" fill="#06a355"/>
<rect x="228.07" y="739.9" width="4.5" height="47.2" fill="#e0314d"/>
<rect x="233.93" y="763.5" width="4.5" height="23.6" fill="#e0314d"/>
<rect x="239.78" y="769.7" width="4.5" height="17.4" fill="#e0314d"/>
<rect x="245.64" y="772.1" width="4.5" height="14.9" fill="#e0314d"/>
<rect x="251.50" y="765.4" width="4.5" height="21.6" fill="#06a355"/>
<rect x="257.36" y="760.5" width="4.5" height="26.6" fill="#06a355"/>
<rect x="263.21" y="738.1" width="4.5" height="48.9" fill="#06a355"/>
<rect x="269.07" y="754.8" width="4.5" height="32.3" fill="#06a355"/>
<rect x="274.93" y="758.0" width="4.5" height="29.1" fill="#e0314d"/>
<rect x="280.79" y="765.4" width="4.5" height="21.6" fill="#06a355"/>
<rect x="286.64" y="758.7" width="4.5" height="28.3" fill="#e0314d"/>
<rect x="292.50" y="769.7" width="4.5" height="17.4" fill="#e0314d"/>
<rect x="298.36" y="770.4" width="4.5" height="16.6" fill="#06a355"/>
<rect x="304.21" y="772.4" width="4.5" height="14.7" fill="#06a355"/>
<rect x="310.07" y="771.7" width="4.5" height="15.4" fill="#e0314d"/>
<rect x="315.93" y="746.1" width="4.5" height="41.0" fill="#e0314d"/>
<rect x="321.79" y="758.7" width="4.5" height="28.3" fill="#e0314d"/>
<rect x="327.64" y="761.7" width="4.5" height="25.3" fill="#06a355"/>
<rect x="333.50" y="768.4" width="4.5" height="18.6" fill="#e0314d"/>
<rect x="339.36" y="765.9" width="4.5" height="21.1" fill="#06a355"/>
<rect x="345.22" y="774.6" width="4.5" height="12.4" fill="#06a355"/>
<rect x="351.07" y="769.9" width="4.5" height="17.1" fill="#06a355"/>
<rect x="356.93" y="771.2" width="4.5" height="15.9" fill="#e0314d"/>
<rect x="362.79" y="773.6" width="4.5" height="13.4" fill="#e0314d"/>
<rect x="368.65" y="778.4" width="4.5" height="8.7" fill="#06a355"/>
<rect x="374.50" y="774.1" width="4.5" height="12.9" fill="#06a355"/>
<rect x="380.36" y="776.6" width="4.5" height="10.4" fill="#06a355"/>
<rect x="386.22" y="771.7" width="4.5" height="15.4" fill="#06a355"/>
<rect x="392.08" y="772.9" width="4.5" height="14.2" fill="#e0314d"/>
<rect x="397.94" y="774.1" width="4.5" height="12.9" fill="#e0314d"/>
<rect x="403.79" y="776.1" width="4.5" height="10.9" fill="#e0314d"/>
<rect x="409.65" y="776.6" width="4.5" height="10.4" fill="#e0314d"/>
<rect x="415.51" y="776.6" width="4.5" height="10.4" fill="#06a355"/>
<rect x="421.37" y="777.9" width="4.5" height="9.2" fill="#06a355"/>
<rect x="427.22" y="778.6" width="4.5" height="8.4" fill="#e0314d"/>
<rect x="433.08" y="776.6" width="4.5" height="10.4" fill="#e0314d"/>
<rect x="438.94" y="769.7" width="4.5" height="17.4" fill="#06a355"/>
<rect x="444.79" y="769.2" width="4.5" height="17.9" fill="#e0314d"/>
<rect x="450.65" y="776.1" width="4.5" height="10.9" fill="#e0314d"/>
<rect x="456.51" y="745.1" width="4.5" height="42.0" fill="#e0314d"/>
<rect x="462.37" y="764.2" width="4.5" height="22.9" fill="#e0314d"/>
<rect x="468.22" y="766.7" width="4.5" height="20.4" fill="#06a355"/>
<rect x="474.08" y="770.4" width="4.5" height="16.6" fill="#e0314d"/>
<rect x="479.94" y="774.6" width="4.5" height="12.4" fill="#06a355"/>
<rect x="485.80" y="769.7" width="4.5" height="17.4" fill="#06a355"/>
<rect x="491.65" y="772.4" width="4.5" height="14.7" fill="#06a355"/>
<rect x="497.51" y="768.7" width="4.5" height="18.4" fill="#e0314d"/>
<rect x="503.37" y="753.8" width="4.5" height="33.3" fill="#e0314d"/>
<rect x="509.23" y="770.9" width="4.5" height="16.1" fill="#e0314d"/>
<rect x="515.09" y="774.1" width="4.5" height="12.9" fill="#06a355"/>
<rect x="520.94" y="773.6" width="4.5" height="13.4" fill="#06a355"/>
<rect x="526.80" y="776.6" width="4.5" height="10.4" fill="#06a355"/>
<rect x="532.66" y="777.9" width="4.5" height="9.2" fill="#06a355"/>
<rect x="538.51" y="777.4" width="4.5" height="9.7" fill="#e0314d"/>
<rect x="544.37" y="777.9" width="4.5" height="9.2" fill="#e0314d"/>
<rect x="550.23" y="779.9" width="4.5" height="7.2" fill="#e0314d"/>
<rect x="556.09" y="774.9" width="4.5" height="12.2" fill="#06a355"/>
<rect x="561.95" y="763.0" width="4.5" height="24.1" fill="#06a355"/>
<rect x="567.80" y="769.7" width="4.5" height="17.4" fill="#e0314d"/>
<rect x="573.66" y="774.1" width="4.5" height="12.9" fill="#e0314d"/>
<rect x="579.52" y="773.6" width="4.5" height="13.4" fill="#06a355"/>
<rect x="585.38" y="772.4" width="4.5" height="14.7" fill="#06a355"/>
<rect x="591.23" y="772.9" width="4.5" height="14.2" fill="#e0314d"/>
<rect x="597.09" y="759.2" width="4.5" height="27.8" fill="#e0314d"/>
<rect x="602.95" y="769.9" width="4.5" height="17.1" fill="#06a355"/>
<rect x="608.81" y="771.7" width="4.5" height="15.4" fill="#e0314d"/>
<rect x="614.66" y="774.6" width="4.5" height="12.4" fill="#e0314d"/>
<rect x="620.52" y="775.4" width="4.5" height="11.7" fill="#e0314d"/>
<rect x="626.38" y="768.7" width="4.5" height="18.4" fill="#e0314d"/>
<rect x="632.24" y="771.7" width="4.5" height="15.4" fill="#e0314d"/>
<rect x="638.09" y="776.6" width="4.5" height="10.4" fill="#06a355"/>
<rect x="643.95" y="771.7" width="4.5" height="15.4" fill="#06a355"/>
<rect x="649.81" y="774.6" width="4.5" height="12.4" fill="#e0314d"/>
<rect x="655.67" y="778.4" width="4.5" height="8.7" fill="#06a355"/>
<rect x="661.52" y="774.9" width="4.5" height="12.2" fill="#06a355"/>
<rect x="667.38" y="779.6" width="4.5" height="7.5" fill="#e0314d"/>
<rect x="673.24" y="776.6" width="4.5" height="10.4" fill="#e0314d"/>
<rect x="679.10" y="758.7" width="4.5" height="28.3" fill="#06a355"/>
<rect x="684.95" y="770.4" width="4.5" height="16.6" fill="#e0314d"/>
<rect x="690.81" y="764.9" width="4.5" height="22.1" fill="#06a355"/>
<rect x="696.67" y="765.4" width="4.5" height="21.6" fill="#06a355"/>
<rect x="702.53" y="754.3" width="4.5" height="32.8" fill="#e0314d"/>
<rect x="708.38" y="768.7" width="4.5" height="18.4" fill="#06a355"/>
<rect x="714.24" y="767.9" width="4.5" height="19.1" fill="#e0314d"/>
<rect x="720.10" y="775.4" width="4.5" height="11.7" fill="#e0314d"/>
<rect x="725.96" y="775.9" width="4.5" height="11.2" fill="#e0314d"/>
<rect x="731.81" y="769.7" width="4.5" height="17.4" fill="#06a355"/>
<rect x="737.67" y="746.8" width="4.5" height="40.2" fill="#e0314d"/>
<rect x="743.53" y="769.7" width="4.5" height="17.4" fill="#e0314d"/>
<rect x="749.38" y="773.6" width="4.5" height="13.4" fill="#06a355"/>
<rect x="755.24" y="778.6" width="4.5" height="8.4" fill="#06a355"/>
<rect x="761.10" y="774.9" width="4.5" height="12.2" fill="#e0314d"/>
<rect x="766.96" y="763.0" width="4.5" height="24.1" fill="#06a355"/>
<rect x="772.82" y="770.9" width="4.5" height="16.1" fill="#e0314d"/>
<rect x="778.67" y="774.6" width="4.5" height="12.4" fill="#06a355"/>
<rect x="784.53" y="772.9" width="4.5" height="14.2" fill="#e0314d"/>
<rect x="790.39" y="774.1" width="4.5" height="12.9" fill="#06a355"/>
<rect x="796.25" y="765.9" width="4.5" height="21.1" fill="#e0314d"/>
<rect x="802.10" y="776.1" width="4.5" height="10.9" fill="#e0314d"/>
<rect x="807.96" y="772.9" width="4.5" height="14.2" fill="#e0314d"/>
<rect x="813.82" y="772.1" width="4.5" height="14.9" fill="#e0314d"/>
<rect x="819.68" y="766.7" width="4.5" height="20.4" fill="#06a355"/>
<rect x="825.53" y="774.9" width="4.5" height="12.2" fill="#e0314d"/>
<rect x="831.39" y="776.6" width="4.5" height="10.4" fill="#06a355"/>
<rect x="837.25" y="770.4" width="4.5" height="16.6" fill="#e0314d"/>
<rect x="843.11" y="769.7" width="4.5" height="17.4" fill="#e0314d"/>
<rect x="848.96" y="775.9" width="4.5" height="11.2" fill="#06a355"/>
<rect x="854.82" y="777.1" width="4.5" height="9.9" fill="#e0314d"/>
<rect x="860.68" y="774.9" width="4.5" height="12.2" fill="#e0314d"/>
<rect x="866.54" y="774.9" width="4.5" height="12.2" fill="#e0314d"/>
<rect x="872.39" y="773.6" width="4.5" height="13.4" fill="#e0314d"/>
<rect x="878.25" y="767.9" width="4.5" height="19.1" fill="#e0314d"/>
<rect x="884.11" y="769.7" width="4.5" height="17.4" fill="#06a355"/>
<rect x="889.97" y="760.0" width="4.5" height="27.1" fill="#06a355"/>
<rect x="895.82" y="758.7" width="4.5" height="28.3" fill="#e0314d"/>
</g>
<line x1="64.9" y1="535.5" x2="896" y2="535.5" stroke="#e0314d" stroke-width="1.2" stroke-dasharray="1.2 4.8"/></svg>
<div class="a" style="left:68px;top:106px;width:760px;height:27px;background:rgba(17,18,20,0.84)"></div>
<div class="a" style="left:68px;top:133px;width:320px;height:27.5px;background:rgba(17,18,20,0.84)"></div>
<div class="a" style="left:68px;top:677px;width:114px;height:28px;background:rgba(17,18,20,0.84)"></div>
<div class="t" style="left:77.5px;top:109.5px;line-height:20px;height:20px;font-size:12px;color:#9c9ea2;">O</div>
<div class="t" style="left:89px;top:109.5px;line-height:20px;height:20px;font-size:12px;color:#e0314d;">816.000</div>
<div class="t" style="left:144px;top:109.5px;line-height:20px;height:20px;font-size:12px;color:#9c9ea2;">H</div>
<div class="t" style="left:157px;top:109.5px;line-height:20px;height:20px;font-size:12px;color:#e0314d;">819.650</div>
<div class="t" style="left:212px;top:109.5px;line-height:20px;height:20px;font-size:12px;color:#9c9ea2;">L</div>
<div class="t" style="left:222px;top:109.5px;line-height:20px;height:20px;font-size:12px;color:#e0314d;">760.010</div>
<div class="t" style="left:277px;top:109.5px;line-height:20px;height:20px;font-size:12px;color:#9c9ea2;">C</div>
<div class="t" style="left:289px;top:109.5px;line-height:20px;height:20px;font-size:12px;color:#e0314d;">784.510</div>
<div class="t" style="left:344px;top:109.5px;line-height:20px;height:20px;font-size:12px;color:#9c9ea2;">Chg</div>
<div class="t" style="left:370px;top:109.5px;line-height:20px;height:20px;font-size:12px;color:#e0314d;">-43.430</div>
<div class="t" style="left:424.5px;top:109.5px;line-height:20px;height:20px;font-size:12px;color:#e0314d;"><span style="letter-spacing:-0.25px">-5.25%</span></div>
<div class="t" style="left:471px;top:109.5px;line-height:20px;height:20px;font-size:12px;color:#9c9ea2;">Vol</div>
<div class="t" style="left:493px;top:109.5px;line-height:20px;height:20px;font-size:12px;color:#d8d8d8;">7.408M</div>
<div class="t" style="left:544px;top:109.5px;line-height:20px;height:20px;font-size:12px;color:#9c9ea2;">Turnover</div>
<div class="t" style="left:596px;top:109.5px;line-height:20px;height:20px;font-size:12px;color:#d8d8d8;">5.79B</div>
<div class="t" style="left:637px;top:109.5px;line-height:20px;height:20px;font-size:12px;color:#9c9ea2;"><span style="letter-spacing:-0.2px">Turnover %</span></div>
<div class="t" style="left:701px;top:109.5px;line-height:20px;height:20px;font-size:12px;color:#d8d8d8;">14.768%</div>
<div class="t" style="left:758px;top:109.5px;line-height:20px;height:20px;font-size:12px;color:#9c9ea2;">P/E</div>
<div class="t" style="left:782px;top:109.5px;line-height:20px;height:20px;font-size:12px;color:#d8d8d8;">68.636</div>
<div class="t" style="left:77px;top:136.5px;line-height:20px;height:20px;font-size:12px;color:#e8e8e8;"><span style="letter-spacing:-0.9px">BOLL</span></div>
<div class="t" style="left:113px;top:136.5px;line-height:20px;height:20px;font-size:12px;color:#f5a3b7;">MID: 739.180</div>
<div class="t" style="left:193px;top:136.5px;line-height:20px;height:20px;font-size:12px;color:#eeb200;"><span style="letter-spacing:-0.55px">UPPER:</span> 950.575</div>
<div class="t" style="left:290px;top:136.5px;line-height:20px;height:20px;font-size:12px;color:#189fd6;"><span style="letter-spacing:-0.85px">LOWER:</span> 527.785</div>
<div class="t" style="left:77px;top:680.5px;line-height:20px;height:20px;font-size:12px;color:#e8e8e8;"><span style="letter-spacing:-0.9px">VOL</span></div>
<div class="t" style="left:108px;top:680.5px;line-height:20px;height:20px;font-size:12px;color:#e8706e;"><span style="letter-spacing:-0.6px">VOL:</span> 11.554</div>
<div class="t" style="right:912.2px;top:155px;line-height:20px;height:20px;font-size:12px;color:#9c9ea2;letter-spacing:-0.2px;">247.99%</div>
<div class="t" style="left:906px;top:155px;line-height:20px;height:20px;font-size:12px;color:#9c9ea2;letter-spacing:0.18px;">1200.000</div>
<div class="t" style="right:912.2px;top:210px;line-height:20px;height:20px;font-size:12px;color:#9c9ea2;letter-spacing:-0.2px;">218.99%</div>
<div class="t" style="left:906px;top:210px;line-height:20px;height:20px;font-size:12px;color:#9c9ea2;letter-spacing:0.18px;">1100.000</div>
<div class="t" style="right:912.2px;top:264px;line-height:20px;height:20px;font-size:12px;color:#9c9ea2;letter-spacing:-0.2px;">189.99%</div>
<div class="t" style="left:906px;top:264px;line-height:20px;height:20px;font-size:12px;color:#9c9ea2;letter-spacing:0.18px;">1000.000</div>
<div class="t" style="right:912.2px;top:318px;line-height:20px;height:20px;font-size:12px;color:#9c9ea2;letter-spacing:-0.2px;">160.99%</div>
<div class="t" style="left:906px;top:318px;line-height:20px;height:20px;font-size:12px;color:#9c9ea2;letter-spacing:0.18px;">900.000</div>
<div class="t" style="right:912.2px;top:373px;line-height:20px;height:20px;font-size:12px;color:#9c9ea2;letter-spacing:-0.2px;">131.99%</div>
<div class="t" style="left:906px;top:373px;line-height:20px;height:20px;font-size:12px;color:#9c9ea2;letter-spacing:0.18px;">800.000</div>
<div class="t" style="right:912.2px;top:427px;line-height:20px;height:20px;font-size:12px;color:#9c9ea2;letter-spacing:-0.2px;">102.99%</div>
<div class="t" style="left:906px;top:427px;line-height:20px;height:20px;font-size:12px;color:#9c9ea2;letter-spacing:0.18px;">700.000</div>
<div class="t" style="right:912.2px;top:482px;line-height:20px;height:20px;font-size:12px;color:#9c9ea2;letter-spacing:-0.2px;">73.99%</div>
<div class="t" style="left:906px;top:482px;line-height:20px;height:20px;font-size:12px;color:#9c9ea2;letter-spacing:0.18px;">600.000</div>
<div class="t" style="right:912.2px;top:536px;line-height:20px;height:20px;font-size:12px;color:#9c9ea2;letter-spacing:-0.2px;">45.00%</div>
<div class="t" style="left:906px;top:536px;line-height:20px;height:20px;font-size:12px;color:#9c9ea2;letter-spacing:0.18px;">500.000</div>
<div class="t" style="right:912.2px;top:590px;line-height:20px;height:20px;font-size:12px;color:#9c9ea2;letter-spacing:-0.2px;">16.00%</div>
<div class="t" style="left:906px;top:590px;line-height:20px;height:20px;font-size:12px;color:#9c9ea2;letter-spacing:0.18px;">400.000</div>
<div class="t" style="right:912.2px;top:645px;line-height:20px;height:20px;font-size:12px;color:#9c9ea2;letter-spacing:-0.2px;">-13.00%</div>
<div class="t" style="left:906px;top:645px;line-height:20px;height:20px;font-size:12px;color:#9c9ea2;letter-spacing:0.18px;">300.000</div>
<div class="t" style="right:911.5px;top:681px;line-height:20px;height:20px;font-size:12px;color:#9c9ea2;">40.00</div>
<div class="t" style="left:906px;top:681px;line-height:20px;height:20px;font-size:12px;color:#9c9ea2;">40.00</div>
<div class="t" style="right:911.5px;top:729px;line-height:20px;height:20px;font-size:12px;color:#9c9ea2;">20.00</div>
<div class="t" style="left:906px;top:729px;line-height:20px;height:20px;font-size:12px;color:#9c9ea2;">20.00</div>
<div class="t" style="right:911.5px;top:772px;line-height:20px;height:20px;font-size:12px;color:#9c9ea2;">M</div>
<div class="t" style="left:906px;top:772px;line-height:20px;height:20px;font-size:12px;color:#9c9ea2;">M</div>
<div class="a" style="left:10px;top:526px;width:50px;height:19px;background:#e0314d;border-radius:2px;"></div>
<div class="t" style="left:-25.299999999999997px;width:120px;text-align:center;top:525.5px;line-height:20px;height:20px;font-size:12px;color:#ffffff;letter-spacing:-0.3px;">49.24%</div>
<div class="a" style="left:901px;top:526px;width:55px;height:19px;background:#e0314d;border-radius:2px;"></div>
<div class="t" style="left:906.5px;top:525.5px;line-height:20px;height:20px;font-size:12px;color:#ffffff;">517.875</div>
<div class="t" style="left:82px;width:120px;text-align:center;top:788.5px;line-height:20px;height:20px;font-size:12px;color:#9c9ea2;">Feb 2024</div>
<div class="t" style="left:199px;width:120px;text-align:center;top:788.5px;line-height:20px;height:20px;font-size:12px;color:#9c9ea2;">Mar</div>
<div class="t" style="left:316.5px;width:120px;text-align:center;top:788.5px;line-height:20px;height:20px;font-size:12px;color:#9c9ea2;">Apr</div>
<div class="t" style="left:445.5px;width:120px;text-align:center;top:788.5px;line-height:20px;height:20px;font-size:12px;color:#9c9ea2;">May</div>
<div class="t" style="left:574px;width:120px;text-align:center;top:788.5px;line-height:20px;height:20px;font-size:12px;color:#9c9ea2;">Jun</div>
<div class="t" style="left:685.5px;width:120px;text-align:center;top:788.5px;line-height:20px;height:20px;font-size:12px;color:#9c9ea2;">Jul</div>
<svg class="a" style="left:16px;top:817px" width="30" height="16" viewBox="0 0 30 16"><rect x="5.1" y="1.6" width="5.7" height="12.8" fill="#8e8f91"/><rect x="1.65" y="1.65" width="12.8" height="12.7" rx="2.6" fill="none" stroke="#a2a3a5" stroke-width="1.3"/><path d="M19.8,6 H26.2 L23,10.3 Z" fill="#c4c4c4"/></svg>
<div class="t" style="left:66px;top:815.5px;line-height:20px;height:20px;font-size:12px;color:#b4b6ba;">5D</div>
<div class="t" style="left:105px;top:815.5px;line-height:20px;height:20px;font-size:12px;color:#b4b6ba;">Daily</div>
<div class="t" style="left:156px;top:815.5px;line-height:20px;height:20px;font-size:12px;color:#b4b6ba;">Weekly</div>
<div class="t" style="left:218px;top:815.5px;line-height:20px;height:20px;font-size:12px;color:#b4b6ba;">Monthly</div>
<div class="t" style="left:287px;top:815.5px;line-height:20px;height:20px;font-size:12px;color:#b4b6ba;">Quarterly</div>
<div class="t" style="left:360px;top:815.5px;line-height:20px;height:20px;font-size:12px;color:#b4b6ba;">Yearly</div>
<div class="t" style="left:416px;top:815.5px;line-height:20px;height:20px;font-size:12px;color:#b4b6ba;">1m</div>
<div class="t" style="left:457px;top:815.5px;line-height:20px;height:20px;font-size:12px;color:#b4b6ba;">3m</div>
<div class="t" style="left:498px;top:815.5px;line-height:20px;height:20px;font-size:12px;color:#b4b6ba;">5m</div>
<div class="t" style="left:539px;top:815.5px;line-height:20px;height:20px;font-size:12px;color:#b4b6ba;">10m</div>
<div class="t" style="left:587px;top:815.5px;line-height:20px;height:20px;font-size:12px;color:#b4b6ba;">15m</div>
<div class="t" style="left:635px;top:815.5px;line-height:20px;height:20px;font-size:12px;color:#b4b6ba;">30m</div>
<div class="t" style="left:684px;top:815.5px;line-height:20px;height:20px;font-size:12px;color:#b4b6ba;">1h</div>
<div class="t" style="left:722px;top:815.5px;line-height:20px;height:20px;font-size:12px;color:#b4b6ba;">2h</div>
<div class="t" style="left:760px;top:815.5px;line-height:20px;height:20px;font-size:12px;color:#b4b6ba;">3h</div>
<svg class="a" style="left:776px;top:821px" width="8" height="8" viewBox="0 0 8 8"><path d="M0.6,2.6 H7.4 L4,6.2 Z" fill="#b4b6ba"/></svg>
<div class="a" style="left:804px;top:819px;width:1px;height:11px;background:#3a4150"></div>
<div class="a" style="left:817px;top:813px;width:48px;height:24px;background:#363b45;border-radius:3px;"></div>
<div class="t" style="left:825px;top:815.5px;line-height:20px;height:20px;font-size:12px;color:#f0f0f0;letter-spacing:-0.6px;">YTD</div>
<svg class="a" style="left:850px;top:821px" width="8" height="8" viewBox="0 0 8 8"><path d="M0.6,2.6 H7.4 L4,6.2 Z" fill="#e0e0e0"/></svg>
<div class="a" style="left:855px;top:789px;width:96px;height:30px;background:#f47216;border-radius:15px;box-shadow:0 3px 16px 2px rgba(244,114,22,0.17);"></div>
<div class="t" style="left:843.5px;width:120px;text-align:center;top:795px;line-height:20px;height:20px;font-size:12px;color:#ffffff;text-shadow:0.4px 0 0 #fff;">Quick Trade</div>
<div class="a" style="left:0;top:851px;width:966px;height:8px;background:#2a2f33"></div>
<div class="a" style="left:0;top:851px;width:966px;height:1px;background:#3b3d48"></div>
</body></html>
